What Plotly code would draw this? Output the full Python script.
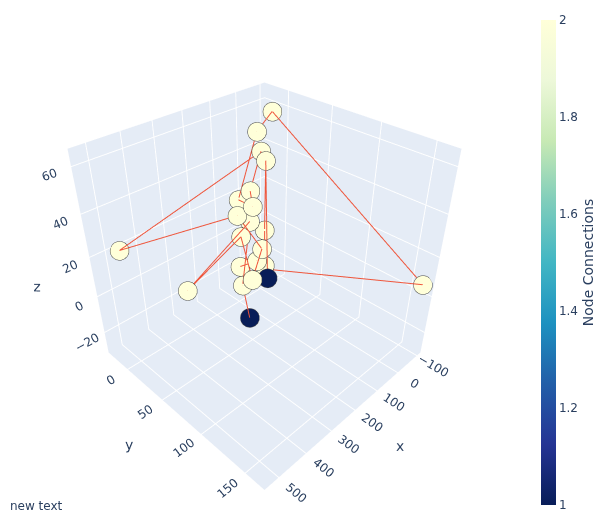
import plotly.graph_objects as go

# Node data
node_names = ["A", "B", "C", "D", "n5", "n6", "n7", "n8", "n9", "n10", "n11",
              "n13", "n14", "n15", "n16", "n17", "n18", "n19", "n20", "n21", "n22", "n23"]
node_x = [-6, 84, 98, 100, 163, 195, 177, 216, 198, 178, 232,
          205, 228, 218, 265, 258, 282, 227, 183, 468, 529, -99]
node_y = [13, 22, 31, 37, 38, 34, 45, 39, 48, 59, 48,
          64, 65, 71, 57, 69, 65, 77, 41, -24, 91, 163]
node_z = [64, 60.5, 54, 51, 41, 38, 36, 33, 31, 28, 26,
          22, 18, 16.5, 16, 12, 10, 12.5, -23, 19, 34.5, 6]

# Path order of edges (by node name)
path_order = ["n19", "D", "n10", "n15", "n14", "n16", "n23", "A", "B", "n6", "n7", "n5",
              "C", "n21", "n8", "n13", "n17", "n11", "n22", "n9", "n18", "n20"]

idx = {n: i for i, n in enumerate(node_names)}
edges = [(path_order[i], path_order[i + 1]) for i in range(len(path_order) - 1)]

degree = [0] * len(node_names)
for a, b in edges:
    degree[idx[a]] += 1
    degree[idx[b]] += 1

ex, ey, ez = [], [], []
for a, b in edges:
    ia, ib = idx[a], idx[b]
    ex += [node_x[ia], node_x[ib], None]
    ey += [node_y[ia], node_y[ib], None]
    ez += [node_z[ia], node_z[ib], None]

ylgnbu_r = [[0.0, "rgb(8,29,88)"], [0.125, "rgb(37,52,148)"], [0.25, "rgb(34,94,168)"],
            [0.375, "rgb(29,145,192)"], [0.5, "rgb(65,182,196)"], [0.625, "rgb(127,205,187)"],
            [0.75, "rgb(199,233,180)"], [0.875, "rgb(237,248,217)"], [1.0, "rgb(255,255,217)"]]

edge_trace = go.Scatter3d(x=ex, y=ey, z=ez, mode="lines",
                          line=dict(color="#EF553B", width=2),
                          hoverinfo="none", showlegend=False)

node_trace = go.Scatter3d(
    x=node_x, y=node_y, z=node_z, mode="markers",
    marker=dict(size=11, color=degree, colorscale=ylgnbu_r, cmin=1, cmax=2,
                line=dict(color="rgb(70,70,70)", width=1), opacity=1,
                colorbar=dict(title=dict(text="Node Connections", side="right"),
                              thickness=15, len=1, tickvals=[1, 1.2, 1.4, 1.6, 1.8, 2])),
    text=node_names, showlegend=False)

fig = go.Figure([edge_trace, node_trace])
fig.update_layout(
    width=613, height=525,
    margin=dict(l=0, r=100, t=2, b=18),
    font=dict(family="DejaVu Sans, Verdana, sans-serif"),
    paper_bgcolor="white",
    showlegend=False,
    scene=dict(
        xaxis=dict(title="x", range=[-119, 549]),
        yaxis=dict(title="y", range=[-30, 170]),
        zaxis=dict(title="z", range=[-32, 67]),
        camera=dict(eye=dict(x=1.43, y=1.43, z=1.43)),
    ),
    annotations=[dict(text="new text", x=0, y=0, xref="paper", yref="paper",
                      showarrow=False, xanchor="left", yanchor="bottom")],
)
fig.write_html("out.html")
